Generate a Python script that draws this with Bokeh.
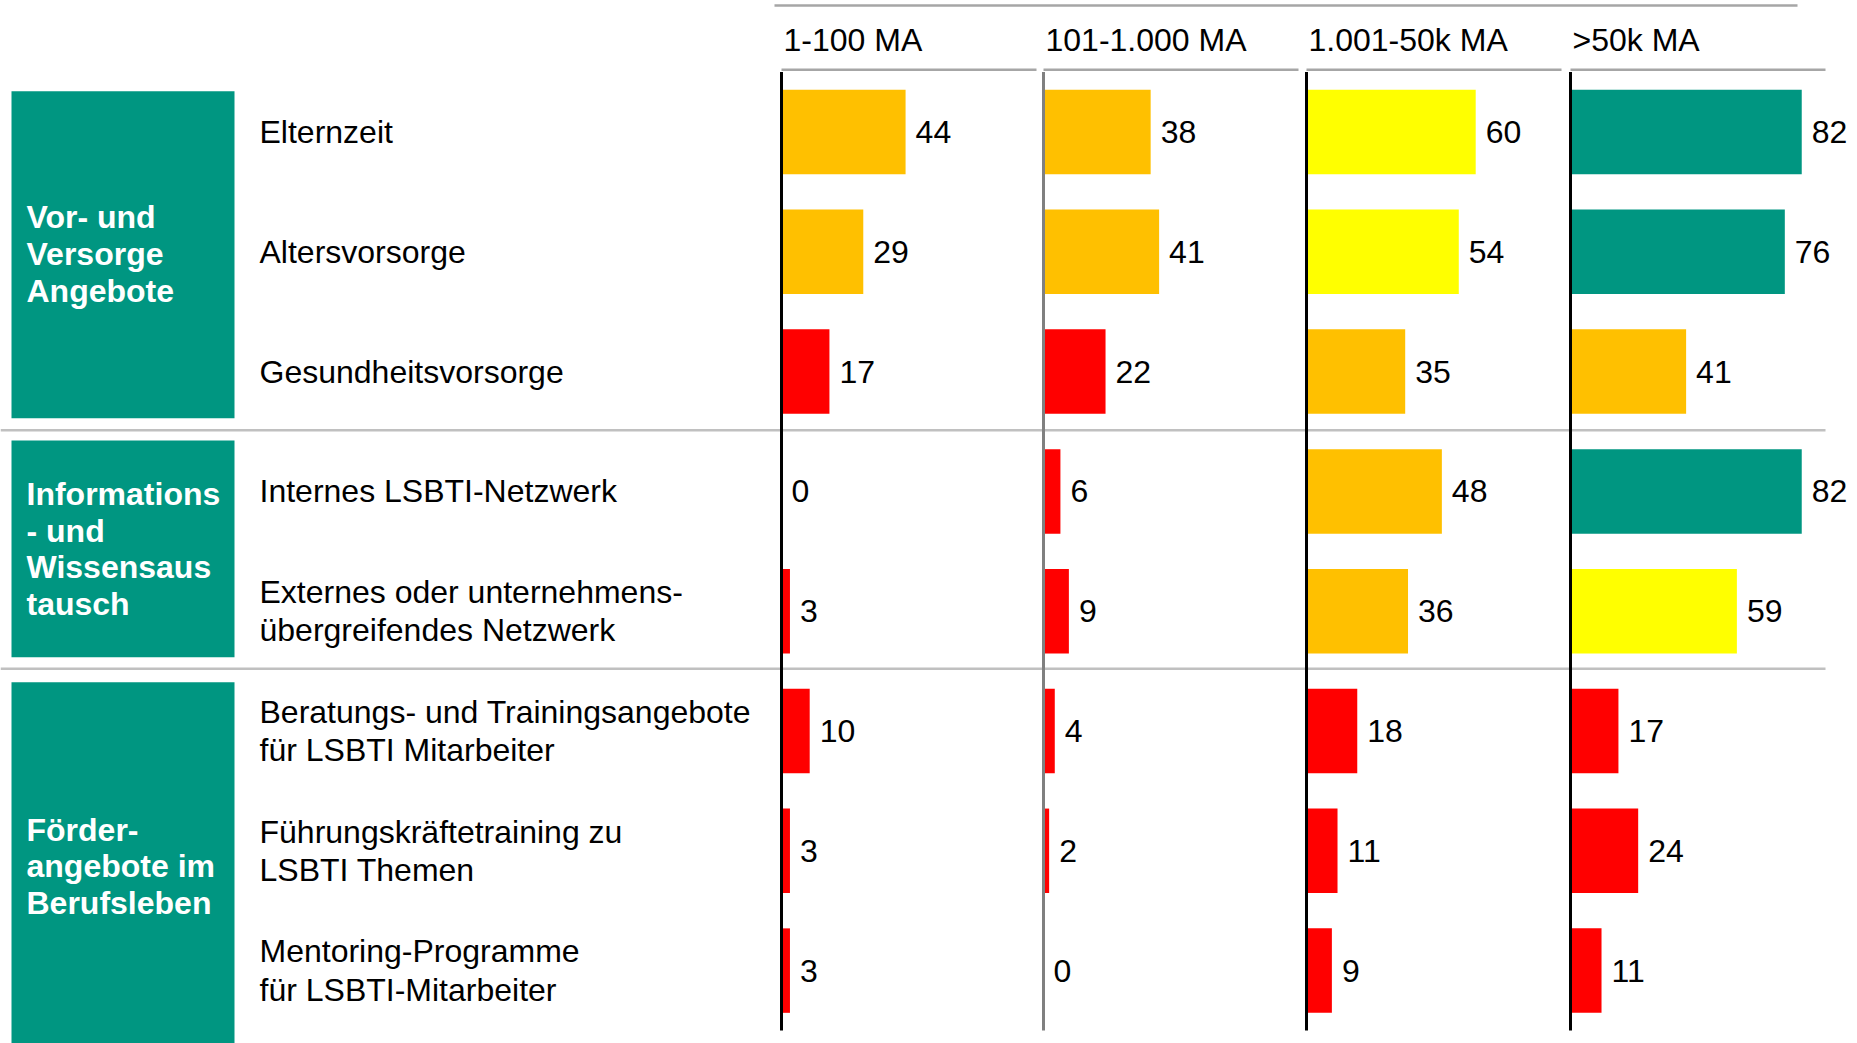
from bokeh.plotting import figure
from bokeh.models import Range1d, ColumnDataSource
from bokeh.embed import file_html
from bokeh.resources import INLINE
from bokeh.core.properties import value

# ---------------- data ----------------
columns = ["1-100 MA", "101-1.000 MA", "1.001-50k MA", ">50k MA"]
items = [
    "Elternzeit",
    "Altersvorsorge",
    "Gesundheitsvorsorge",
    "Internes LSBTI-Netzwerk",
    "Externes oder unternehmens-\nübergreifendes Netzwerk",
    "Beratungs- und Trainingsangebote\nfür LSBTI Mitarbeiter",
    "Führungskräftetraining zu\nLSBTI Themen",
    "Mentoring-Programme\nfür LSBTI-Mitarbeiter",
]
groups = ["Vor- und\nVersorge\nAngebote",
          "Informations\n- und\nWissensaus\ntausch",
          "Förder-\nangebote im\nBerufsleben"]
v_1_100 = [44, 29, 17, 0, 3, 10, 3, 3]
v_101_1000 = [38, 41, 22, 6, 9, 4, 2, 0]
v_1001_50k = [60, 54, 35, 48, 36, 18, 11, 9]
v_50k_plus = [82, 76, 41, 82, 59, 17, 24, 11]
series = [v_1_100, v_101_1000, v_1001_50k, v_50k_plus]

# ---------------- layout / style ----------------
W, H = 1857, 1043
TOP_PX, ROW_PX = 131.5, 119.8
COL_PX = [781, 1043, 1306, 1570]
PXU = 2.82
TEAL = "#009681"
FONT = "Liberation Sans"
FS = "32px"


def colour(v):
    if v < 25:
        return "#FF0000"
    if v < 50:
        return "#FFC000"
    if v < 75:
        return "#FFFF00"
    return TEAL


def ypx(px):
    return (px - TOP_PX) / ROW_PX


rows = list(range(len(items)))

p = figure(width=W, height=H,
           x_range=Range1d(0, W),
           y_range=Range1d((H - TOP_PX) / ROW_PX, -TOP_PX / ROW_PX),
           output_backend="svg", toolbar_location=None, min_border=0,
           x_axis_location=None, y_axis_location=None)
p.outline_line_color = None
p.grid.visible = False
p.background_fill_color = "white"
p.border_fill_color = "white"

extra = {}
for k in range(len(columns)):
    s = COL_PX[k]
    extra[f"c{k}"] = Range1d(-s / PXU, (W - s) / PXU)
p.extra_x_ranges = extra

# top line
p.segment(x0=[774], x1=[1797], y0=[ypx(5)], y1=[ypx(5)],
          line_color="#A6A6A6", line_width=2.5)

# group boxes
box_top = [-0.34, 2.575, 4.593]
box_bot = [2.389, 4.384, 8.5]
p.quad(left=11, right=234, top=box_top, bottom=box_bot, fill_color=TEAL, line_color=None)

# separators
p.segment(x0=[0, 0], x1=[1825, 1825], y0=[2.49, 4.48], y1=[2.49, 4.48],
          line_color="#C0C0C0", line_width=2.5)

# group labels
p.text(x=26, y=[1.02, 3.48, 6.13], text=groups, text_color="white",
       text_font=value(FONT), text_font_size=FS, text_font_style="bold",
       text_baseline="middle", text_line_height=1.02)

# category labels
p.text(x=259, y=rows, text=items, text_color="black",
       text_font=value(FONT), text_font_size=FS,
       text_baseline="middle", text_line_height=1.07)

axis_cols = ["black", "#808080", "black", "black"]
for k, (name, vals) in enumerate(zip(columns, series)):
    rn = f"c{k}"
    src = ColumnDataSource(dict(y=rows, v=vals, c=[colour(v) for v in vals],
                                lab=[str(v) for v in vals]))
    p.hbar(y="y", left=0, right="v", height=0.705, fill_color="c", line_color=None,
           source=src, x_range_name=rn)
    p.segment(x0=[0], x1=[0], y0=[-0.5], y1=[7.5], line_color=axis_cols[k],
              line_width=3, x_range_name=rn)
    p.text(x="v", y="y", text="lab", x_offset=10, source=src, text_color="black",
           text_font=value(FONT), text_font_size=FS, text_baseline="middle",
           x_range_name=rn)
    p.segment(x0=[0], x1=[255 / PXU], y0=[-0.52], y1=[-0.52], line_color="#A6A6A6",
              line_width=2.5, x_range_name=rn)
    p.text(x=[0], y=[-0.77], text=[name], x_offset=2, text_color="black",
           text_font=value(FONT), text_font_size=FS, text_baseline="middle",
           x_range_name=rn)

open("out.html", "w").write(file_html(p, INLINE))
